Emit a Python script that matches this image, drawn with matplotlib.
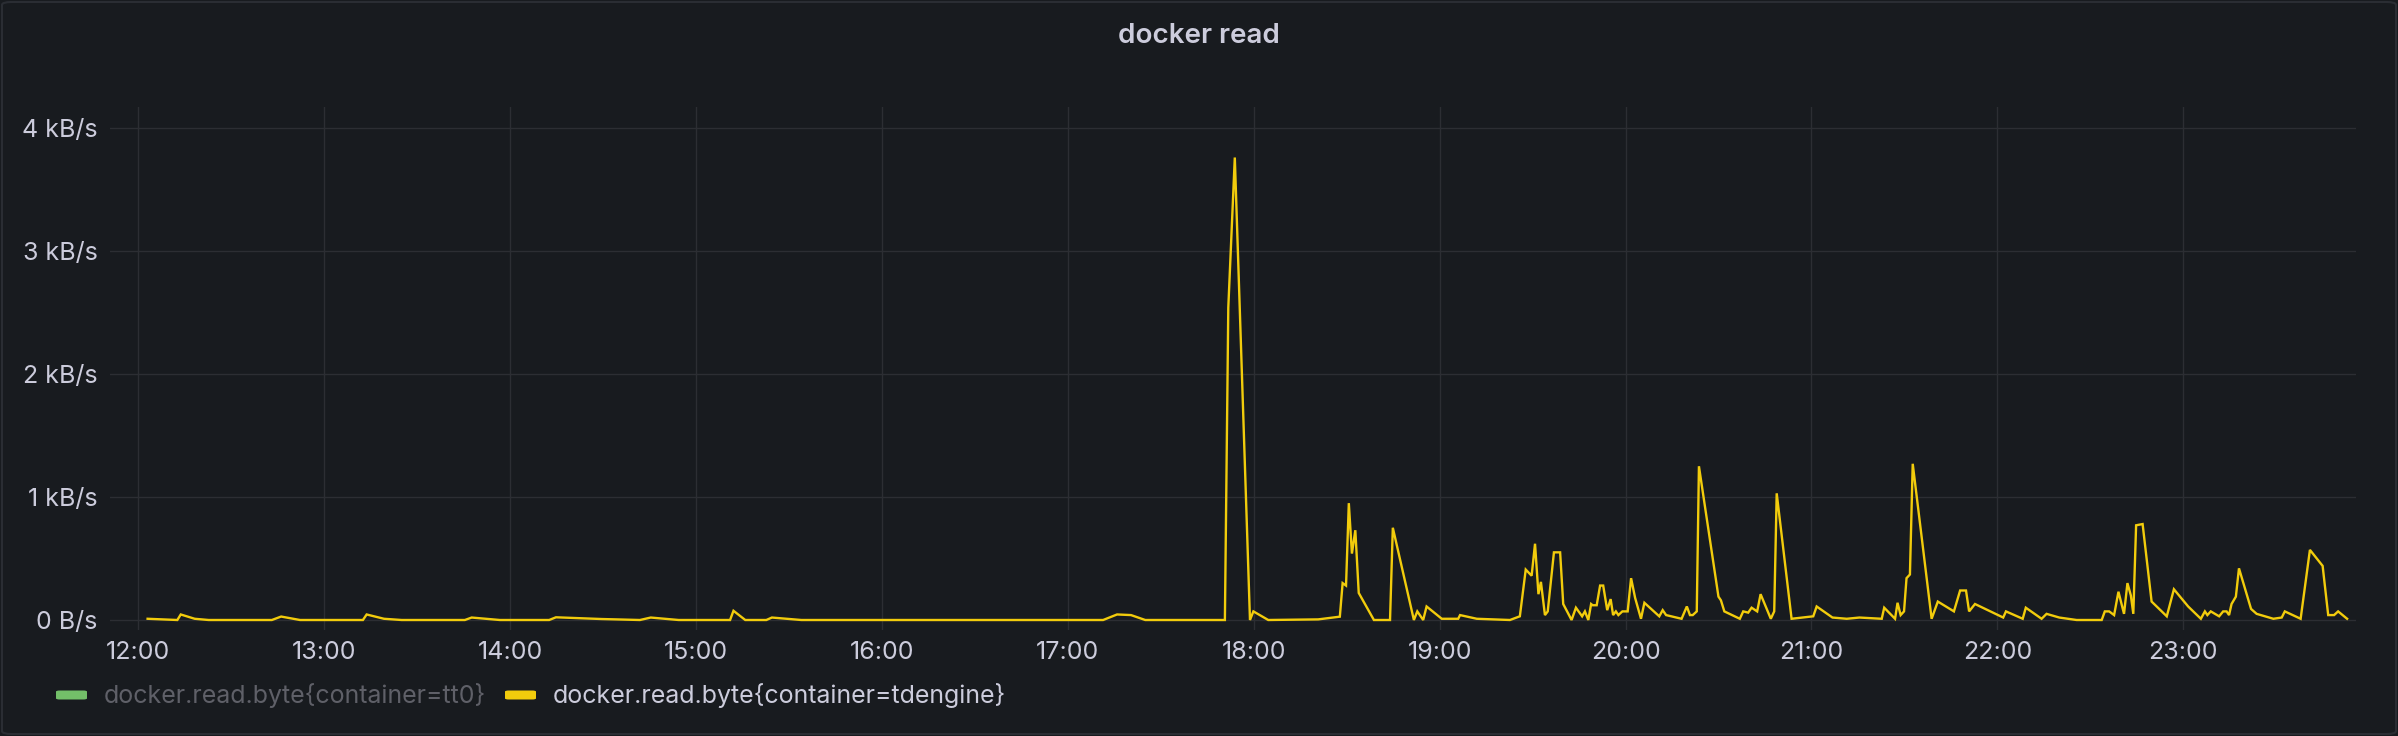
import datetime as dt
import matplotlib
matplotlib.use("Agg")
import matplotlib.pyplot as plt
import matplotlib.dates as mdates
from matplotlib.ticker import FuncFormatter, FixedLocator
from matplotlib.patches import FancyBboxPatch

# ---- data ----
title = "docker read"
series_names = ["docker.read.byte{container=tt0}", "docker.read.byte{container=tdengine}"]
series_colors = ["#73BF69", "#F2CC0C"]

# minutes after 12:00 for the tdengine series
time_min = [
    3.0, 12.6, 13.7, 18.2, 22.7, 43.1, 46.1, 52.2, 72.5, 73.7, 79.3, 85.0,
    105.4, 107.6, 116.7, 132.6, 134.8, 149.5, 161.9, 165.4, 174.4, 191.0,
    192.1, 195.9, 202.7, 204.5, 214.0, 311.4, 315.9, 320.4, 325.0, 350.7,
    351.8, 353.9, 358.8, 359.9, 364.7,
    380.8, 387.8, 388.7, 389.8, 390.7, 391.7, 392.8, 393.9, 398.8, 404.0,
    404.9, 411.7, 412.8, 414.7, 415.8, 420.7, 426.0, 426.6,
    432.0, 442.7, 445.9, 447.8, 449.7, 450.8, 451.9, 452.7, 454.0, 454.9,
    456.9, 458.9, 459.9, 462.6, 464.0, 466.0, 466.9, 468.0, 468.9, 469.4,
    470.7, 471.8, 472.8, 474.1, 475.2, 476.0, 476.9, 477.7, 479.0, 480.7,
    481.8, 483.1, 485.0, 486.1, 490.9,
    492.0, 493.1, 498.1, 499.8, 500.8, 501.7, 503.0, 503.7, 510.0, 510.8,
    511.9, 516.9, 518.0, 519.6, 520.7, 522.5, 523.6, 526.9, 528.0, 528.8,
    533.6, 540.6, 541.7, 546.8, 551.4, 555.5,
    562.7, 563.5, 567.0, 567.8, 568.8, 569.9, 570.7, 571.8, 572.7, 578.8,
    580.8, 586.0, 588.0, 589.9, 590.9, 592.8, 601.9, 602.8, 608.2, 609.2,
    614.3, 615.9, 620.0,
    625.6, 633.7, 634.7, 636.1, 637.7, 639.1, 640.9, 642.0, 643.1, 643.9,
    644.8, 646.9, 649.8, 654.7, 657.0, 661.6, 665.7, 667.0, 667.8, 668.9,
    671.6, 672.9, 674.0, 674.8, 675.6, 677.0, 678.0, 681.9, 683.7, 689.1,
    691.8, 692.8, 697.9, 700.9, 705.0, 706.8, 708.7, 710.0, 712.9,
]
# bytes per second
tdengine_bps = [
    10, 0, 45, 10, 0, 0, 28, 0, 0, 45, 10, 0,
    0, 20, 0, 0, 22, 8, 0, 20, 0, 0,
    75, 0, 0, 20, 0, 0, 45, 40, 0, 0,
    2540, 3760, 0, 70, 0,
    5, 27, 300, 280, 950, 540, 730, 220, 0, 0,
    750, 0, 70, 0, 110, 10, 10, 40,
    10, 0, 30, 410, 360, 620, 210, 310, 40, 70,
    550, 550, 130, 0, 100, 30, 70, 0, 130, 120,
    120, 280, 280, 80, 170, 40, 70, 40, 70, 70,
    340, 180, 10, 140, 30,
    80, 40, 10, 110, 40, 40, 70, 1250, 190, 160,
    70, 10, 70, 60, 100, 70, 210, 10, 70, 1030,
    10, 30, 110, 20, 10, 20,
    10, 100, 10, 140, 40, 70, 340, 370, 1270, 10,
    150, 70, 240, 240, 70, 130, 20, 70, 10, 100,
    10, 50, 20,
    0, 0, 70, 70, 40, 230, 50, 300, 200, 50,
    770, 780, 150, 30, 250, 110, 10, 70, 40, 70,
    30, 70, 70, 40, 130, 190, 420, 90, 50, 10,
    20, 70, 10, 570, 440, 40, 40, 70, 10,
]
y_ticks_bps = [0, 1000, 2000, 3000, 4000]

# ---- style ----
BG = "#181b1f"
TXT = "#ccccdc"
DIM = "#5f6068"
GRID = "#2c2e33"
W, H = 2398, 736

plt.rcParams["font.family"] = ["Inter", "DejaVu Sans"]

fig = plt.figure(figsize=(W / 100, H / 100), dpi=100, facecolor=BG)

# panel border
fig.patches.append(FancyBboxPatch((2 / W, 2 / H), (W - 4) / W, (H - 4) / H,
                                  boxstyle="round,pad=0,rounding_size=0.004",
                                  transform=fig.transFigure, facecolor=BG,
                                  edgecolor="#2a2d33", linewidth=1.5, zorder=-1))

# axes placement (pixel measurements from reference)
ax_l, ax_r, ax_t, ax_b = 110, 2356, 107, 630
ax = fig.add_axes([ax_l / W, (H - ax_b) / H, (ax_r - ax_l) / W, (ax_b - ax_t) / H])
ax.set_facecolor(BG)

base = dt.datetime(2021, 1, 1, 12, 0)
times = [base + dt.timedelta(minutes=m) for m in time_min]

ax.plot(times, tdengine_bps, color=series_colors[1], linewidth=1.7, solid_joinstyle="miter")

# limits: 0 at y=620px, 1 kB/s = 123 px
px_per_b = 123 / 1000.0
ax.set_ylim(-(ax_b - 620) / px_per_b, (620 - ax_t) / px_per_b)
hour_px = 185.9
x0 = base + dt.timedelta(hours=(ax_l - 138.3) / hour_px)
x1 = base + dt.timedelta(hours=(ax_r - 138.3) / hour_px)
ax.set_xlim(x0, x1)

ax.yaxis.set_major_locator(FixedLocator(y_ticks_bps))
ax.yaxis.set_major_formatter(FuncFormatter(
    lambda v, _: "0 B/s" if v == 0 else f"{v / 1000:g} kB/s"))
ax.xaxis.set_major_locator(mdates.HourLocator())
ax.xaxis.set_major_formatter(mdates.DateFormatter("%H:%M"))

ax.grid(True, color=GRID, linewidth=1.0)
ax.set_axisbelow(True)
for s in ax.spines.values():
    s.set_visible(False)
ax.tick_params(axis="both", length=0, colors=TXT, labelsize=18)
ax.tick_params(axis="y", pad=9)
ax.tick_params(axis="x", pad=8)

# title
fig.text(0.5, 1 - 36 / H, title, ha="center", va="center", color=TXT,
         fontsize=20, fontweight="semibold")

# legend
leg_y = 695
sw_w, sw_h = 31, 9
for sx, tx, name, col, tcol in [(56, 104, series_names[0], series_colors[0], DIM),
                                (505, 553, series_names[1], series_colors[1], TXT)]:
    fig.patches.append(FancyBboxPatch((sx / W, (H - leg_y - sw_h / 2) / H), sw_w / W, sw_h / H,
                                      boxstyle="round,pad=0,rounding_size=0.0015",
                                      transform=fig.transFigure, facecolor=col,
                                      edgecolor="none"))
    fig.text(tx / W, (H - leg_y) / H, name, ha="left", va="center", color=tcol, fontsize=18)

fig.savefig("out.png", dpi=100, facecolor=BG)
